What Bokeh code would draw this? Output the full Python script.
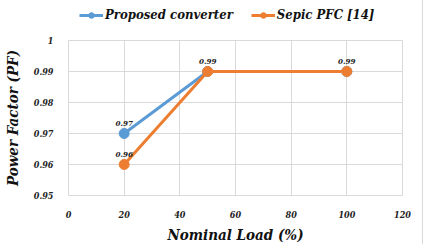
from bokeh.plotting import figure
from bokeh.layouts import column
from bokeh.models import ColumnDataSource, Legend, LegendItem, FixedTicker, Range1d
from bokeh.core.properties import value
from bokeh.embed import file_html
from bokeh.resources import INLINE

# Power factor versus load for the two converters
load = [20, 50, 100]
pf_proposed = [0.97, 0.99, 0.99]
pf_sepic = [0.96, 0.99, 0.99]
series_names = ["Proposed converter", "Sepic PFC [14]"]
series_colors = ["#5B9BD5", "#ED7D31"]
x_ticks = [0, 20, 40, 60, 80, 100, 120]
y_ticks = [0.95, 0.96, 0.97, 0.98, 0.99, 1.0]

GRID = "#D9D9D9"
FONT = "DejaVu Serif Condensed, DejaVu Serif, serif"

p = figure(width=421, height=214, output_backend="svg", toolbar_location=None,
           x_range=Range1d(0, 120), y_range=Range1d(0.95, 1.0),
           frame_width=334, frame_height=155,
           min_border_left=67, min_border_right=20, min_border_top=10, min_border_bottom=49)
p.background_fill_color = "white"
p.border_fill_color = "white"
p.outline_line_color = GRID
p.outline_line_width = 1

p.xaxis.ticker = FixedTicker(ticks=x_ticks)
p.yaxis.ticker = FixedTicker(ticks=y_ticks)
p.yaxis.major_label_overrides = {1.0: "1"}
for ax in (p.xaxis, p.yaxis):
    ax.axis_line_color = None
    ax.major_tick_line_color = None
    ax.minor_tick_line_color = None
    ax.major_label_text_font = FONT
    ax.major_label_text_font_style = "bold italic"
    ax.major_label_text_font_size = "9px"
    ax.major_label_text_color = "#222222"
    ax.axis_label_text_font = FONT
    ax.axis_label_text_font_style = "bold italic"
    ax.axis_label_text_font_size = "15px"
    ax.axis_label_text_color = "#111111"
    ax.major_label_standoff = 9
p.xaxis.axis_label = "Nominal Load (%)"
p.yaxis.axis_label = "Power Factor (PF)"
p.xaxis.axis_label_standoff = 5
p.yaxis.axis_label_standoff = 9

p.xgrid.grid_line_color = GRID
p.ygrid.grid_line_color = GRID

for ys, color in zip((pf_proposed, pf_sepic), series_colors):
    src = ColumnDataSource(dict(x=load, y=ys))
    p.line("x", "y", source=src, line_color=color, line_width=3)
    p.scatter("x", "y", source=src, size=10, fill_color=color, line_color=color)

# value labels above each distinct point
seen = set()
lx, ly, lt = [], [], []
for ys in (pf_proposed, pf_sepic):
    for x, y in zip(load, ys):
        if (x, y) not in seen:
            seen.add((x, y))
            lx.append(x)
            ly.append(y)
            lt.append(f"{y:.2f}")
p.text(lx, ly, text=lt, text_font=value(FONT), text_font_style="bold italic",
       text_font_size="8px", text_color="#222222", text_align="center",
       text_baseline="bottom", y_offset=-8)

# legend strip across the top (its frame lines up with the chart frame)
lg = figure(width=421, height=30, output_backend="svg", toolbar_location=None,
            x_range=Range1d(0, 1), y_range=Range1d(0, 1),
            min_border=0, x_axis_type=None, y_axis_type=None)
lg.outline_line_color = None
lg.grid.visible = False
items = []
for name, color, ys in zip(series_names, series_colors, (pf_proposed, pf_sepic)):
    src = ColumnDataSource(dict(x=load, y=ys))
    r1 = lg.line("x", "y", source=src, line_color=color, line_width=3)
    r2 = lg.scatter("x", "y", source=src, size=10, fill_color=color, line_color=color)
    items.append(LegendItem(label=name, renderers=[r1, r2]))
legend = Legend(items=items, orientation="horizontal", location=(11, 8))
legend.label_text_font = FONT
legend.label_text_font_style = "bold italic"
legend.label_text_font_size = "13px"
legend.label_text_color = "#111111"
legend.glyph_width = 24
legend.glyph_height = 14
legend.label_height = 14
legend.label_standoff = 2
legend.spacing = 18
legend.padding = 0
legend.margin = 0
legend.border_line_color = None
legend.background_fill_alpha = 0
lg.add_layout(legend, "center")

page = column(lg, p, spacing=0, styles={"border-right": "1px solid #D9D9D9"})
open("out.html", "w").write(file_html(page, INLINE))
